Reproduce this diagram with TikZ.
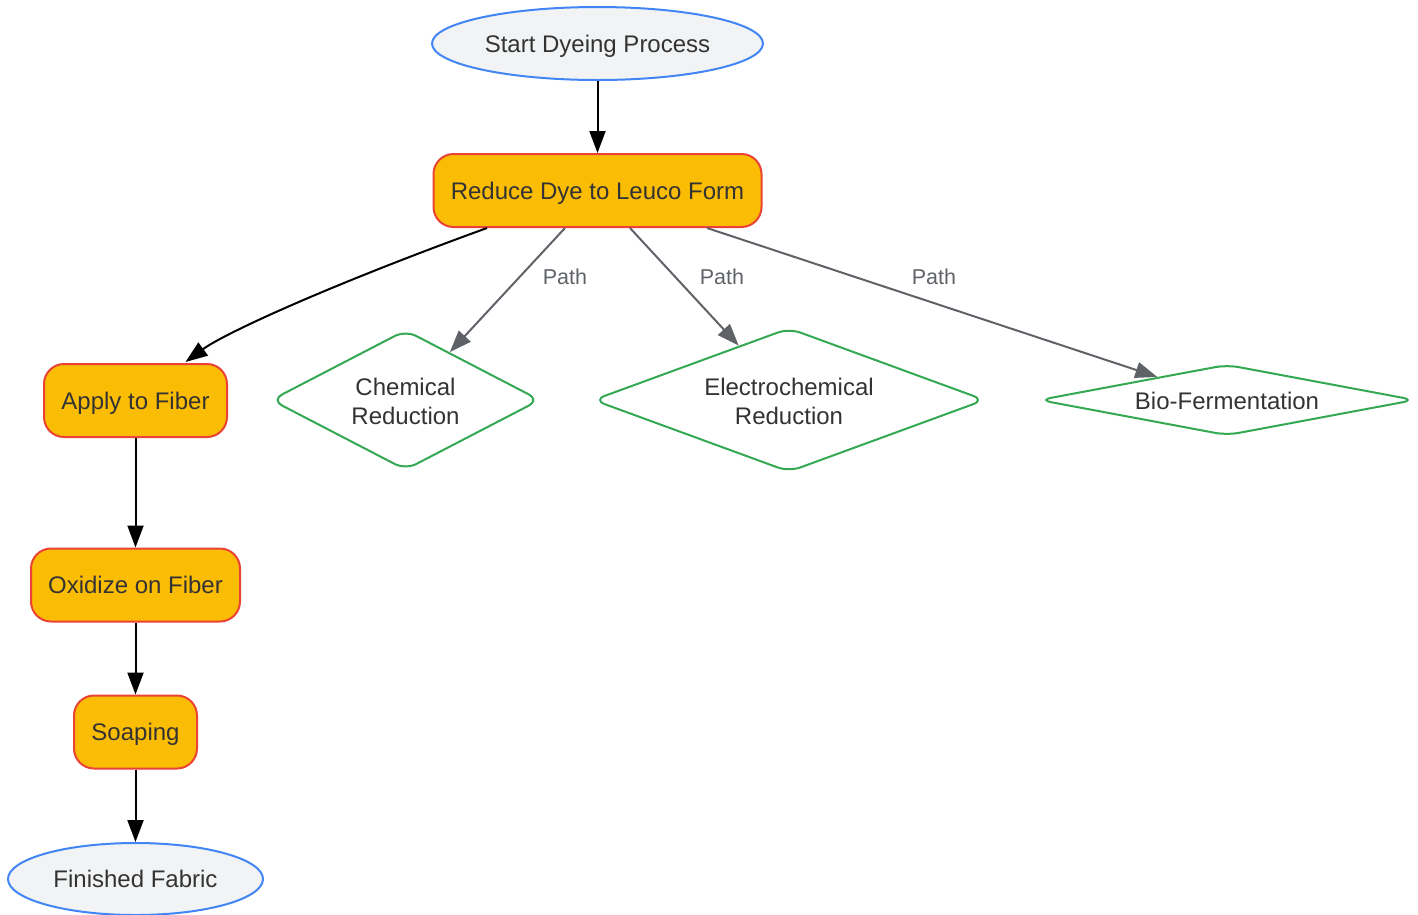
\documentclass[tikz,border=0pt]{standalone}
\usepackage{fontspec}
\setmainfont{Liberation Sans}
\usetikzlibrary{shapes.geometric,arrows.meta,calc}
\definecolor{txt}{HTML}{333333}
\definecolor{procfill}{HTML}{FBBC04}
\definecolor{procdraw}{HTML}{EA4335}
\definecolor{termfill}{HTML}{F1F3F4}
\definecolor{termdraw}{HTML}{4285F4}
\definecolor{decdraw}{HTML}{34A853}
\definecolor{pathgray}{HTML}{5F6368}
\tikzset{
  base/.style={font=\fontsize{24}{29}\selectfont, text=txt, line width=2pt, inner sep=0pt, align=center},
  one/.style={text height=17.5pt, text depth=0pt},
  term/.style={base, one, ellipse, fill=termfill, draw=termdraw},
  proc/.style={base, one, rectangle, rounded corners=20pt, fill=procfill, draw=procdraw, minimum height=73pt},
  dec/.style={base, diamond, rounded corners=12pt, fill=white, draw=decdraw},
  dectext/.style={font=\fontsize{24}{29}\selectfont, text=txt, inner sep=0pt, align=center},
  flow/.style={line width=2pt, black, -{Triangle[length=22pt,width=16pt]}},
  alt/.style={line width=2pt, pathgray, -{Triangle[length=22pt,width=16pt]}},
  lbl/.style={font=\fontsize{21.5}{26}\selectfont, text=pathgray, inner sep=0pt}
}
\begin{document}
\begin{tikzpicture}[x=1pt,y=-1pt]
\useasboundingbox (0,0) rectangle (1418,914);
\node[term, minimum width=331pt, minimum height=73pt] (start) at (597.5,43.5) {Start Dyeing Process};
\node[proc, minimum width=328pt] (reduce) at (597.5,190.5) {Reduce Dye to Leuco Form};
\node[proc, minimum width=183pt] (apply) at (135.5,400.5) {Apply to Fiber};
\node[proc, minimum width=209pt] (oxid) at (135.5,585) {Oxidize on Fiber};
\node[proc, minimum width=123pt] (soap) at (135.5,732) {Soaping};
\node[term, minimum width=255pt, minimum height=72pt] (fin) at (135.5,879) {Finished Fabric};
\node[dec, minimum width=269pt, minimum height=140pt,
      label={[dectext, yshift=-1pt]center:Chemical\\Reduction}] (chem) at (405.5,400) {};
\node[dec, minimum width=392pt, minimum height=144pt,
      label={[dectext, yshift=-1pt]center:Electrochemical\\Reduction}] (elec) at (789,400) {};
\node[dec, minimum width=376pt, minimum height=71pt,
      label={[dectext, one, yshift=-1pt]center:Bio-Fermentation}] (bio) at (1227,400) {};

\draw[flow] (start) -- (reduce);
\draw[flow] ($(reduce.south)+(-110.5,0)$) .. controls (330,285) and (225,333) .. ($(apply.north)+(50,-1)$);
\draw[flow] (apply) -- (oxid);
\draw[flow] (oxid) -- (soap);
\draw[flow] (soap) -- (fin);
\draw[alt] ($(reduce.south)+(-32.5,0)$) -- (chem);
\draw[alt] ($(reduce.south)+(32.5,0)$) -- (elec);
\draw[alt] ($(reduce.south)+(109.5,0)$) -- (bio);

\node[lbl] (l1) at (565,277) {Path};
\node[lbl] (l2) at (722,277) {Path};
\node[lbl] (l3) at (934,277) {Path};
\end{tikzpicture}
\end{document}
